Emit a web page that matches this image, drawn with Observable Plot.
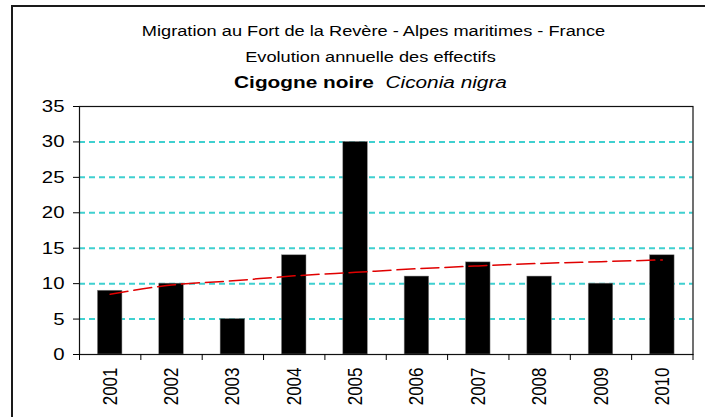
<!DOCTYPE html>
<html>
<head>
<meta charset="utf-8">
<script src="https://cdn.jsdelivr.net/npm/d3@7"></script>
<script src="https://cdn.jsdelivr.net/npm/@observablehq/plot@0.6"></script>
<style>
  html, body { margin: 0; padding: 0; background: #fff; }
  #wrap { position: relative; width: 705px; height: 417px; overflow: hidden; font-family: "Liberation Sans", Arial, sans-serif; background: #fff; }
  #border { position: absolute; left: 11px; top: 5px; width: 800px; height: 600px; border-left: 2px solid #1a1a1a; border-top: 2px solid #1a1a1a; z-index: 2; pointer-events: none; }
  .t { position: absolute; left: 64px; width: 613px; text-align: center; color: #000; font-size: 14px; line-height: 16px; white-space: nowrap; transform: scaleX(1.3); transform-origin: 306.5px 50%; }
  #chart { position: absolute; left: 0; top: 95px; }
</style>
</head>
<body>
<div id="wrap">
  <div id="border"></div>
  <div class="t" style="top:23px; left:67px">Migration au Fort de la Revère - Alpes maritimes - France</div>
  <div class="t" style="top:49px">Evolution annuelle des effectifs</div>
  <div class="t" style="top:75px; font-size:16px"><b>Cigogne noire</b>&nbsp;&nbsp;<i>Ciconia nigra</i></div>
  <div id="chart"></div>
</div>
<script>
const years = [2001, 2002, 2003, 2004, 2005, 2006, 2007, 2008, 2009, 2010];
const counts = [9, 10, 5, 14, 30, 11, 13, 11, 10, 14];
const trendValues = [8.5, 9.8, 10.4, 11.1, 11.6, 12.1, 12.5, 12.85, 13.1, 13.35];
const yTicks = [0, 5, 10, 15, 20, 25, 30, 35];
const gridValues = [5, 10, 15, 20, 25, 30];

const bars = years.map((y, i) => ({year: y, value: counts[i]}));
const trend = years.map((y, i) => ({year: y, value: trendValues[i]}));
const boundaries = [years[0] - 0.5, ...years.map(y => y + 0.5)];

const chart = Plot.plot({
  width: 705,
  height: 322,
  marginLeft: 79,
  marginRight: 12.5,
  marginTop: 11,
  marginBottom: 63,
  style: {fontFamily: "'Liberation Sans', Arial, sans-serif", fontSize: "17px", color: "#000", background: "none", overflow: "visible"},
  x: {type: "linear", domain: [years[0] - 0.5, years[years.length - 1] + 0.5]},
  y: {domain: [0, 35]},
  marks: [
    Plot.ruleY(gridValues, {stroke: "#3fd0d0", strokeWidth: 2, strokeDasharray: "6,4"}),
    Plot.rectY(bars, {x1: d => d.year - 0.2, x2: d => d.year + 0.2, y1: 0, y2: "value", fill: "#000", stroke: "#888", strokeWidth: 0.5}),
    Plot.line(trend, {x: "year", y: "value", stroke: "#e00000", strokeWidth: 1.5, strokeDasharray: "18,6", curve: "monotone-x"}),
    Plot.frame({stroke: "#111", strokeWidth: 1.2}),
    Plot.axisY({ticks: yTicks, tickSize: 6, tickPadding: 9, fontSize: 17, label: null}),
    Plot.axisX({ticks: boundaries, tickSize: 6, tickFormat: () => "", label: null}),
    Plot.axisX({ticks: years, tickSize: 0, tickPadding: 13, tickRotate: -90, tickFormat: d => String(d), fontSize: 17, label: null})
  ]
});
// Horizontally stretched lettering, as in the reference picture
d3.select(chart).selectAll('g[aria-label="y-axis tick label"] text').each(function() {
  const t = this.getAttribute("transform") || "";
  this.setAttribute("transform", t + " scale(1.2,1)");
});
d3.select(chart).selectAll('g[aria-label="x-axis tick label"] text').each(function() {
  const t = this.getAttribute("transform") || "";
  this.setAttribute("transform", t + " scale(1,1.2)");
});
document.getElementById("chart").appendChild(chart);
</script>
</body>
</html>
